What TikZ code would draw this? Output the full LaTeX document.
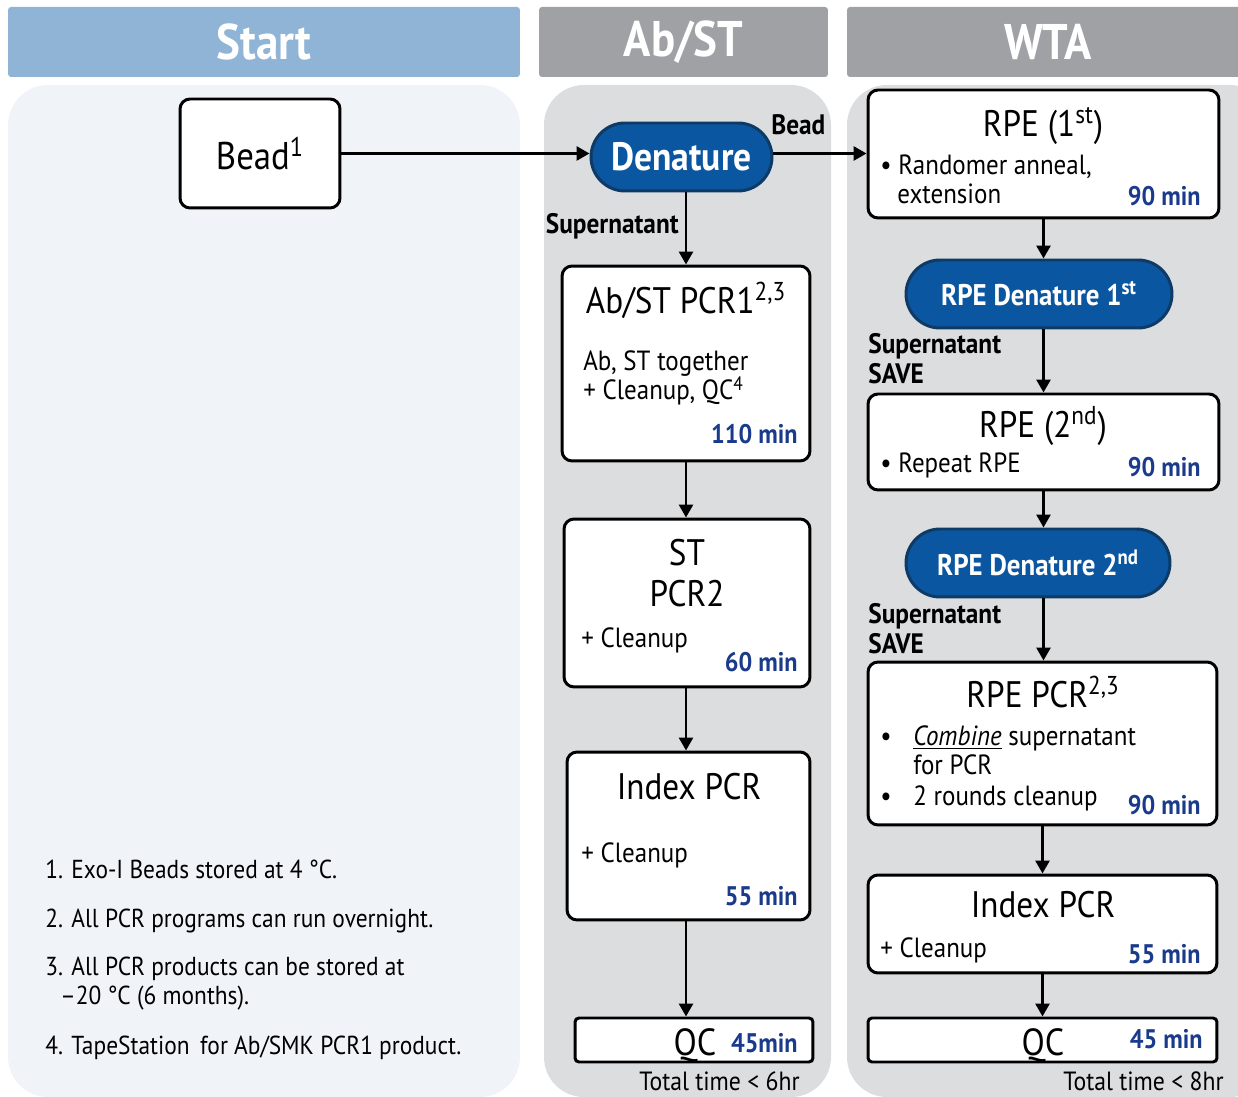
\documentclass[tikz,border=0pt]{standalone}
\usepackage{fontspec}
\setmainfont{PT Sans}[FakeStretch=0.9]
\usetikzlibrary{arrows.meta,calc}
\definecolor{hdrblue}{HTML}{8FB4D6}
\definecolor{hdrgray}{HTML}{A0A1A5}
\definecolor{panelblue}{HTML}{F0F4F9}
\definecolor{panelgray}{HTML}{DCDDDF}
\definecolor{denfill}{HTML}{0B56A0}
\definecolor{dendraw}{HTML}{0E3A66}
\definecolor{minblue}{HTML}{1A3A8C}
\newcommand{\fs}[1]{\fontsize{#1}{#1}\selectfont}
\begin{document}
\begin{tikzpicture}[x=0.02cm,y=-0.02cm,
  hdr/.style={fill=#1, rounded corners=0.06cm, text=white, font=\fs{28.5}\bfseries},
  panel/.style={fill=#1, rounded corners=0.8cm},
  box/.style={draw=black, line width=1.7pt, fill=white, rounded corners=0.2cm, inner sep=0pt},
  qcbox/.style={draw=black, line width=1.7pt, fill=white, rounded corners=0.08cm, inner sep=0pt},
  pill/.style={draw=dendraw, line width=1.7pt, fill=denfill, rounded corners=0.68cm, text=white, inner sep=0pt},
  ttl/.style={font=\fs{21}, inner sep=0pt},
  body/.style={font=\fs{15.8}, inner sep=0pt},
  mins/.style={font=\fs{15.3}\bfseries, text=minblue, inner sep=0pt},
  lab/.style={font=\fs{16}\bfseries, inner sep=0pt, align=left},
  note/.style={font=\fs{14.8}, inner sep=0pt},
  arr/.style={line width=1.6pt, -{Triangle[length=2.6mm,width=2.8mm]}}
]
\useasboundingbox (0,0) rectangle (1238,1097);
% headers
\node[hdr=hdrblue, minimum width=10.24cm, minimum height=1.4cm] (hstart) at (264,42) {Start};
\node[hdr=hdrgray, minimum width=5.78cm, minimum height=1.4cm] (habst) at (683.5,42) {Ab/ST};
\node[hdr=hdrgray, minimum width=8.2cm, minimum height=1.4cm] (hwta) at (1052,42) {};
\node[text=white, font=\fs{28.5}\bfseries, inner sep=0pt] (hwtat) at (1048,42) {WTA};
% panels
\fill[panel=panelblue] (8,85) rectangle (520,1097);
\fill[panel=panelgray] (544,85) rectangle (831,1097);
\fill[panel=panelgray] (847,85) rectangle (1270,1097);

% Start column
\node[box, minimum width=3.2cm, minimum height=2.18cm, font=\fs{22}] (bead) at (260,153.5) {Bead\textsuperscript{1}};

% Ab/ST column
\node[pill, minimum width=3.62cm, minimum height=1.36cm, font=\fs{22.5}\bfseries] (den) at (681.5,157) {Denature};
\node[box, minimum width=4.96cm, minimum height=3.9cm] (pcr1) at (686,363.5) {};
\node[box, minimum width=4.92cm, minimum height=3.36cm] (st) at (687,603) {};
\node[box, minimum width=4.86cm, minimum height=3.36cm] (idxl) at (688.5,836) {};
\node[qcbox, minimum width=4.76cm, minimum height=0.88cm] (qcl) at (694,1040) {};

\node[lab, anchor=base west] (lbead) at (771,135) {Bead};
\node[lab, anchor=base east] (lsup) at (679,234) {Supernatant};
\node[ttl, anchor=base] (t1) at (686,314) {Ab/ST PCR1\textsuperscript{2,3}};
\node[body, anchor=base west] (t1a) at (583,371) {Ab, ST together};
\node[body, anchor=base west] (t1b) at (583,400) {+ Cleanup, QC\textsuperscript{4}};
\node[mins, anchor=base east] (t1m) at (798,444) {110 min};
\node[ttl, anchor=base] (t2a) at (687,566) {ST};
\node[ttl, anchor=base] (t2b) at (687,607) {PCR2};
\node[body, anchor=base west] (t2c) at (581,648) {+ Cleanup};
\node[mins, anchor=base east] (t2m) at (798,672) {60 min};
\node[ttl, anchor=base] (t3) at (689,800) {Index PCR};
\node[body, anchor=base west] (t3a) at (581,863) {+ Cleanup};
\node[mins, anchor=base east] (t3m) at (798,906) {55 min};
\node[font=\fs{21.5}, inner sep=0pt, anchor=base] (t4) at (695,1055) {QC};
\node[mins, anchor=base east] (t4m) at (798,1052) {45min};
\node[body, anchor=base east, font=\fs{15}] (tot1) at (800,1090) {Total time < 6hr};

% WTA column
\node[box, minimum width=7.02cm, minimum height=2.56cm] (rpe1) at (1043.5,154) {};
\node[pill, minimum width=5.32cm, minimum height=1.36cm, font=\fs{17}\bfseries] (d1) at (1039,294) {RPE Denature 1\textsuperscript{st}};
\node[box, minimum width=7.02cm, minimum height=1.92cm] (rpe2) at (1043.5,442) {};
\node[pill, minimum width=5.28cm, minimum height=1.36cm, font=\fs{17}\bfseries] (d2) at (1038,563) {RPE Denature 2\textsuperscript{nd}};
\node[box, minimum width=6.98cm, minimum height=3.26cm] (rpcr) at (1042.5,743.5) {};
\node[box, minimum width=6.98cm, minimum height=1.96cm] (idxr) at (1042.5,924) {};
\node[qcbox, minimum width=6.98cm, minimum height=0.88cm] (qcr) at (1042.5,1040) {};

\node[ttl, anchor=base] (w1) at (1043,137) {RPE (1\textsuperscript{st})};
\node[body, anchor=base west] (w1a) at (880,175) {• Randomer anneal,};
\node[body, anchor=base west] (w1b) at (897,204) {extension};
\node[mins, anchor=base east] (w1m) at (1201,206) {90 min};
\node[lab, anchor=base west] (ls1) at (868,354) {Supernatant};
\node[lab, anchor=base west] (ls1b) at (868,384) {SAVE};
\node[ttl, anchor=base] (w2) at (1043,438) {RPE (2\textsuperscript{nd})};
\node[body, anchor=base west] (w2a) at (880,473) {• Repeat RPE};
\node[mins, anchor=base east] (w2m) at (1201,477) {90 min};
\node[lab, anchor=base west] (ls2) at (868,624) {Supernatant};
\node[lab, anchor=base west] (ls2b) at (868,654) {SAVE};
\node[ttl, anchor=base] (w3) at (1043,708) {RPE PCR\textsuperscript{2,3}};
\node[body, anchor=base west] (w3b1) at (880,746) {•};
\node[body, anchor=base west] (w3a) at (913,746) {\underline{\textit{Combine}} supernatant};
\node[body, anchor=base west] (w3b) at (913,775) {for PCR};
\node[body, anchor=base west] (w3b2) at (880,806) {•};
\node[body, anchor=base west] (w3c) at (913,806) {2 rounds cleanup};
\node[mins, anchor=base east] (w3m) at (1201,815) {90 min};
\node[ttl, anchor=base] (w4) at (1043,918) {Index PCR};
\node[body, anchor=base west] (w4a) at (880,957) {+ Cleanup};
\node[mins, anchor=base east] (w4m) at (1201,964) {55 min};
\node[font=\fs{21.5}, inner sep=0pt, anchor=base] (w5) at (1043,1055) {QC};
\node[mins, anchor=base east] (w5m) at (1203,1048) {45 min};
\node[body, anchor=base east, font=\fs{15}] (tot2) at (1224,1090) {Total time < 8hr};

% footnotes
\node[note, anchor=base west] (n1) at (45,879) {1. Exo-I Beads stored at 4 °C.};
\node[note, anchor=base west] (n2) at (45,928) {2. All PCR programs can run overnight.};
\node[note, anchor=base west] (n3) at (45,975) {3. All PCR products can be stored at};
\node[note, anchor=base west] (n3b) at (60,1004) {–20 °C (6 months).};
\node[note, anchor=base west] (n4) at (45,1054) {4. TapeStation\, for Ab/SMK PCR1 product.};

% arrows
\draw[arr] (bead.east) -- (bead.east -| den.west);
\draw[arr] (den.east |- bead.east) -- (rpe1.west |- bead.east);
\draw[arr] (pcr1.north |- den.south) -- (pcr1.north);
\draw[arr] (pcr1.south) -- (pcr1.south |- st.north);
\draw[arr] (pcr1.south |- st.south) -- (pcr1.south |- idxl.north);
\draw[arr] (pcr1.south |- idxl.south) -- (pcr1.south |- qcl.north);
\draw[arr] (rpe1.south) -- (rpe1.south |- d1.north);
\draw[arr] (rpe1.south |- d1.south) -- (rpe1.south |- rpe2.north);
\draw[arr] (rpe2.south) -- (rpe2.south |- d2.north);
\draw[arr] (rpe2.south |- d2.south) -- (rpe2.south |- rpcr.north);
\draw[arr] (rpcr.south) -- (rpcr.south |- idxr.north);
\draw[arr] (idxr.south) -- (idxr.south |- qcr.north);
\end{tikzpicture}
\end{document}
